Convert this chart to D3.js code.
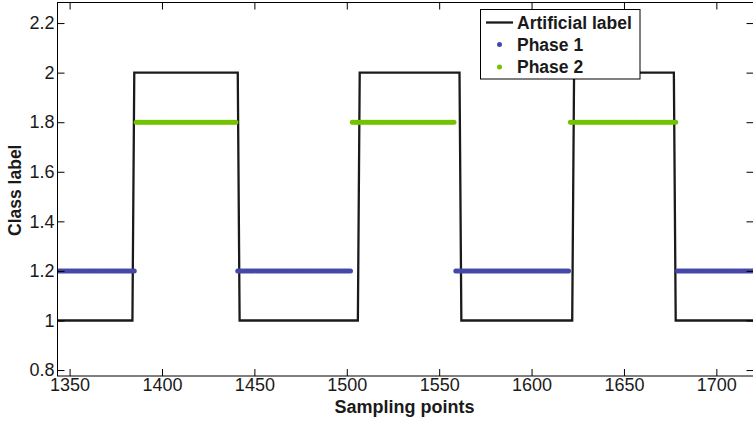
<!DOCTYPE html>
<html>
<head>
<meta charset="utf-8">
<script src="https://cdn.jsdelivr.net/npm/d3@7"></script>
<style>
  html, body { margin: 0; padding: 0; background: #fff; }
  svg { display: block; font-family: "Liberation Sans", Arial, Helvetica, sans-serif; }
</style>
</head>
<body>
<svg id="chart" width="753" height="422"></svg>
<script>
// Artificial label: step signal given by its corner points
const labelX = [1343, 1384, 1385, 1441, 1442, 1506, 1507, 1561, 1562, 1622, 1623, 1677, 1678, 1721];
const labelY = [1, 1, 2, 2, 1, 1, 2, 2, 1, 1, 2, 2, 1, 1];

// Detected phases: runs of sampling points [first, last] and their class value
const phase1Runs = [[1343, 1385], [1441, 1502], [1559, 1620], [1679, 1721]];
const phase1Value = 1.2;
const phase2Runs = [[1386, 1440], [1503, 1558], [1621, 1678]];
const phase2Value = 1.8;

const xTicks = [1350, 1400, 1450, 1500, 1550, 1600, 1650, 1700];
const yTicks = [0.8, 1, 1.2, 1.4, 1.6, 1.8, 2, 2.2];

const legendItems = ["Artificial label", "Phase 1", "Phase 2"];

const colors = { label: "#1a1a1a", phase1: "#4548a8", phase2: "#72c200" };

const svg = d3.select("#chart");
const pLeft = 57.5, pRight = 753.5, pTop = 2.5, pBottom = 376;

const x = d3.scaleLinear().domain([1343.45, 1720.1]).range([pLeft, pRight]);
const y = d3.scaleLinear().domain([0.776, 2.283]).range([pBottom, pTop]);

svg.append("defs").append("clipPath").attr("id", "plotClip")
  .append("rect").attr("x", pLeft).attr("y", pTop)
  .attr("width", pRight - pLeft).attr("height", pBottom - pTop);

const plot = svg.append("g").attr("clip-path", "url(#plotClip)");

// Step line for the artificial label
const labelPts = labelX.map((v, i) => [v, labelY[i]]);
plot.append("path")
  .datum(labelPts)
  .attr("fill", "none")
  .attr("stroke", colors.label)
  .attr("stroke-width", 2.3)
  .attr("d", d3.line().x(d => x(d[0])).y(d => y(d[1])));

// One dot per sampling point inside each phase run
function drawRuns(runs, value, color) {
  const pts = [];
  runs.forEach(([a, b]) => { for (let s = a; s <= b; s++) pts.push([s, value]); });
  plot.append("g").selectAll("circle").data(pts).join("circle")
    .attr("cx", d => x(d[0]))
    .attr("cy", d => y(d[1]))
    .attr("r", 2.5)
    .attr("fill", color);
}
drawRuns(phase1Runs, phase1Value, colors.phase1);
drawRuns(phase2Runs, phase2Value, colors.phase2);

// Axes with inward ticks on all four sides
const tickLen = 7;
svg.append("rect").attr("x", pLeft).attr("y", pTop)
  .attr("width", pRight - pLeft).attr("height", pBottom - pTop)
  .attr("fill", "none").attr("stroke", "#000").attr("stroke-width", 1);

const xb = svg.append("g").attr("transform", `translate(0,${pBottom})`)
  .call(d3.axisBottom(x).tickValues(xTicks).tickSizeInner(-tickLen).tickSizeOuter(0).tickPadding(2).tickFormat(d3.format("d")));
const xt = svg.append("g").attr("transform", `translate(0,${pTop})`)
  .call(d3.axisTop(x).tickValues(xTicks).tickSizeInner(-tickLen).tickSizeOuter(0).tickFormat(""));
const yl = svg.append("g").attr("transform", `translate(${pLeft},0)`)
  .call(d3.axisLeft(y).tickValues(yTicks).tickSizeInner(-tickLen).tickSizeOuter(0).tickPadding(3).tickFormat(d => String(+d.toFixed(1))));
const yr = svg.append("g").attr("transform", `translate(${pRight},0)`)
  .call(d3.axisRight(y).tickValues(yTicks).tickSizeInner(-tickLen).tickSizeOuter(0).tickFormat(""));

[xb, xt, yl, yr].forEach(g => {
  g.select(".domain").remove();
  g.selectAll(".tick line").attr("stroke", "#000");
  g.selectAll(".tick text").attr("fill", "#1a1a1a").attr("font-size", 18)
    .attr("font-family", "Liberation Sans, Arial, sans-serif");
});
xb.selectAll(".tick text").attr("dy", "0.71em");

// Axis titles
svg.append("text")
  .attr("x", (pLeft + pRight) / 2 - 1).attr("y", 413)
  .attr("text-anchor", "middle").attr("font-weight", "bold").attr("font-size", 18)
  .attr("fill", "#1a1a1a")
  .text("Sampling points");
svg.append("text")
  .attr("transform", `translate(21,${(pTop + pBottom) / 2 + 1}) rotate(-90)`)
  .attr("text-anchor", "middle").attr("font-weight", "bold").attr("font-size", 17.5)
  .attr("fill", "#1a1a1a")
  .text("Class label");

// Legend
const lg = svg.append("g");
lg.append("rect").attr("x", 480.5).attr("y", 9.5).attr("width", 159.5).attr("height", 69.5)
  .attr("fill", "#fff").attr("stroke", "#000").attr("stroke-width", 1);
const rowY = [22.5, 44.5, 67];
lg.append("line").attr("x1", 486).attr("x2", 513).attr("y1", rowY[0]).attr("y2", rowY[0])
  .attr("stroke", colors.label).attr("stroke-width", 2.3);
lg.append("circle").attr("cx", 499.5).attr("cy", rowY[1]).attr("r", 2.5).attr("fill", colors.phase1);
lg.append("circle").attr("cx", 499.5).attr("cy", rowY[2]).attr("r", 2.5).attr("fill", colors.phase2);
lg.selectAll("text.item").data(legendItems).join("text")
  .attr("class", "item")
  .attr("x", 517).attr("y", (d, i) => rowY[i])
  .attr("dy", "0.36em")
  .attr("font-weight", "bold").attr("font-size", 17.5).attr("fill", "#1a1a1a")
  .text(d => d);
</script>
</body>
</html>
